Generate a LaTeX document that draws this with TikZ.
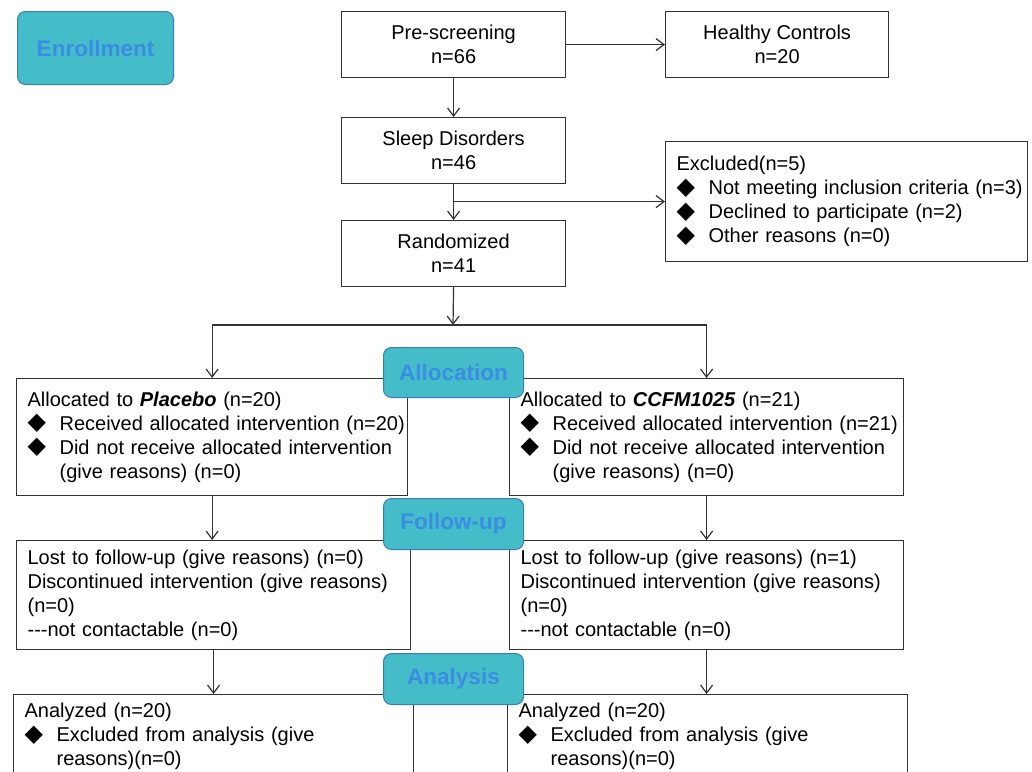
\documentclass[tikz,border=0pt]{standalone}
\usepackage{fontspec}
\setmainfont{Liberation Sans}
\newfontfamily\symfont{DejaVu Sans}
\usetikzlibrary{arrows.meta}
\setlength\parindent{0pt}

\definecolor{stagefill}{HTML}{45BDC8}
\definecolor{stageline}{HTML}{3B7DB4}
\definecolor{stagetext}{HTML}{3A8DE3}
\definecolor{edgegray}{HTML}{333333}

% bullet of the list boxes
\newcommand\dia{\makebox[32pt][l]{\raisebox{0.5pt}{\symfont\fontsize{24}{24}\selectfont\char"25C6}}}
\newcommand\hang{\hspace*{32pt}}

\tikzset{
  box/.style={draw=edgegray, line width=1.2pt, rectangle, inner sep=0pt,
    anchor=north west, align=center, font=\fontsize{20}{24}\selectfont},
  lbox/.style={box, align=left, inner xsep=11pt},
  stage/.style={draw=stageline, fill=stagefill, line width=1pt, rounded corners=8pt,
    text=stagetext, font=\bfseries\fontsize{22.5}{24}\selectfont,
    anchor=north west, inner sep=0pt},
  link/.style={draw=edgegray, line width=1.2pt},
  arr/.style={link, -{Straight Barb[length=8pt,width=12pt]}}
}

\begin{document}
\begin{tikzpicture}[x=1pt,y=-1pt]
  \useasboundingbox (0,0) rectangle (1032,771);

  % Enrollment
  \node[box, minimum width=224pt, minimum height=66pt] (pre) at (341,11) {Pre-screening\\n=66};
  \node[box, minimum width=223pt, minimum height=66pt] (hc) at (665,11) {Healthy Controls\\n=20};
  \node[box, minimum width=224pt, minimum height=66pt] (sleep) at (341,117) {Sleep Disorders\\n=46};
  \node[box, minimum width=224pt, minimum height=66pt] (rand) at (341,220) {Randomized\\n=41};
  \node[lbox, text width=340pt, minimum height=120pt] (excl) at (665,141)
    {Excluded(n=5)\\\dia\mbox{Not meeting inclusion criteria (n=3)}\\\dia Declined to participate (n=2)\\\dia Other reasons (n=0)};

  % Allocation
  \node[lbox, text width=369pt, minimum height=117pt] (allocL) at (16,378)
    {Allocated to \textbf{\textit{Placebo}} (n=20)\\\dia\mbox{Received allocated intervention (n=20)}\\\dia Did not receive allocated intervention\\\hang(give reasons) (n=0)};
  \node[lbox, text width=372pt, minimum height=117pt] (allocR) at (509,378)
    {Allocated to \textbf{\textit{CCFM1025}} (n=21)\\\dia\mbox{Received allocated intervention (n=21)}\\\dia Did not receive allocated intervention\\\hang(give reasons) (n=0)};

  % Follow-up
  \node[lbox, text width=372pt, minimum height=109pt] (follL) at (16,540)
    {Lost to follow-up (give reasons) (n=0)\\Discontinued intervention (give reasons)\\(n=0)\\-\kern0pt-\kern0pt-not contactable (n=0)};
  \node[lbox, text width=372pt, minimum height=109pt] (follR) at (509,540)
    {Lost to follow-up (give reasons) (n=1)\\Discontinued intervention (give reasons)\\(n=0)\\-\kern0pt-\kern0pt-not contactable (n=0)};

  % Analysis
  \node[lbox, text width=378pt, minimum height=84pt] (anaL) at (13,694)
    {Analyzed (n=20)\\\dia Excluded from analysis (give\\\hang reasons)(n=0)};
  \node[lbox, text width=378pt, minimum height=84pt] (anaR) at (507,694)
    {Analyzed (n=20)\\\dia Excluded from analysis (give\\\hang reasons)(n=0)};

  % Connectors
  \draw[arr] (pre.east) -- (hc.west);
  \draw[arr] (pre.south) -- (sleep.north);
  \draw[arr] (sleep.south) -- (rand.north);
  \draw[arr] (sleep.south |- excl.west) -- (excl.west);
  \coordinate (split) at (453,325);
  \draw[arr] (rand.south) -- (split);
  \draw[link] (allocL.north |- split) -- (allocR.north |- split);
  \draw[arr] (allocL.north |- split) -- (allocL.north);
  \draw[arr] (allocR.north |- split) -- (allocR.north);
  \draw[arr] (allocL.south) -- (allocL.south |- follL.north);
  \draw[arr] (allocR.south) -- (allocR.south |- follR.north);
  \draw[arr] (follL.south) -- (follL.south |- anaL.north);
  \draw[arr] (follR.south) -- (follR.south |- anaR.north);

  % Stage labels
  \node[stage, minimum width=156pt, minimum height=73pt] (enroll) at (17,11) {Enrollment};
  \node[stage, minimum width=140pt, minimum height=50pt] (alloc) at (383,347) {Allocation};
  \node[stage, minimum width=140pt, minimum height=51pt] (follow) at (383,498) {Follow-up};
  \node[stage, minimum width=140pt, minimum height=51pt] (analysis) at (383,653) {Analysis};

\end{tikzpicture}
\end{document}
